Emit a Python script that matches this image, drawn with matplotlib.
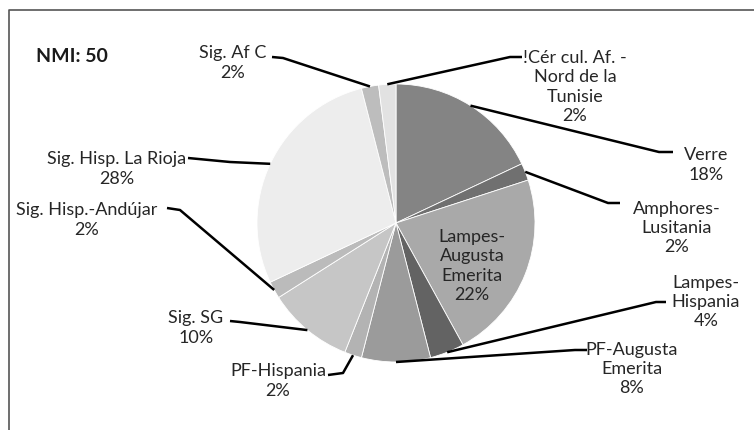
import numpy as np
import matplotlib.pyplot as plt

# NMI counts per category (total 50)
labels = ["Verre", "Amphores-\nLusitania", "Lampes-\nAugusta\nEmerita", "Lampes-\nHispania",
          "PF-Augusta\nEmerita", "PF-Hispania", "Sig. SG", "Sig. Hisp.-Andújar",
          "Sig. Hisp. La Rioja", "Sig. Af C", "!Cér cul. Af. -\nNord de la\nTunisie"]
counts = [9, 1, 11, 2, 4, 1, 5, 1, 14, 1, 1]
colors = ["#848484", "#707070", "#a9a9a9", "#636363", "#9b9b9b", "#b3b3b3",
          "#c6c6c6", "#bbbbbb", "#ededed", "#bdbdbd", "#e2e2e2"]

# layout in pixel coords (y downwards): label centre, elbow points of the leader
label_pos = [(706, 165), (677, 228), None, (706, 302), (632, 369), (278, 381),
             (196, 328), (87, 220), (117, 169), (233, 63), (575, 87)]
elbows = [[(659, 152), (673, 152)], [(608, 203), (620, 203)], None,
          [(656, 302), (666, 302)], [(575, 350), (587, 350)], [(343, 373), (328, 375)],
          [(240, 322), (230, 321)], [(180, 210), (167, 208)], [(230, 162), (188, 158)],
          [(283, 58), (272, 57)], [(510, 57), (522, 57)]]

W, H = 754, 430
cx, cy, r = 396, 223, 139

plt.rcParams['font.family'] = ['Lato', 'DejaVu Sans']
fig = plt.figure(figsize=(W / 100, H / 100), dpi=100)
ax = fig.add_axes([0, 0, 1, 1])
ax.set_xlim(0, W)
ax.set_ylim(0, H)
ax.axis('off')

def fy(y):
    return H - y

wedges, _ = ax.pie(counts, colors=colors, startangle=90, counterclock=False,
                   center=(cx, fy(cy)), radius=r, frame=True,
                   wedgeprops=dict(linewidth=0.6, edgecolor='white'))
ax.set_xlim(0, W)
ax.set_ylim(0, H)
ax.axis('off')

total = sum(counts)
txt_color = "#262626"
for i, w in enumerate(wedges):
    pct = f"{round(100 * counts[i] / total)}%"
    text = labels[i] + "\n" + pct
    if label_pos[i] is None:
        # label inside the wedge
        ax.text(472, fy(266), text, ha='center', va='center', fontsize=13,
                color=txt_color, linespacing=1.25)
        continue
    mid = np.deg2rad((w.theta1 + w.theta2) / 2)
    x0 = cx + r * np.cos(mid)
    y0 = fy(cy) + r * np.sin(mid)
    (ex1, ey1), (ex2, ey2) = elbows[i]
    ax.plot([x0, ex1, ex2], [y0, fy(ey1), fy(ey2)], color='black', lw=1.8,
            solid_capstyle='butt', zorder=3)
    lx, ly = label_pos[i]
    ax.text(lx, fy(ly), text, ha='center', va='center', fontsize=13,
            color=txt_color, linespacing=1.25)

ax.text(72, fy(56), "NMI: 50", ha='center', va='center', fontsize=14,
        fontweight='bold', color="#1a1a1a")

# chart frame (cropped at right and bottom)
ax.plot([9, 9, W + 5], [fy(H + 5), fy(10), fy(10)], color="#555555", lw=1.2,
        clip_on=False)

fig.savefig("out.png", dpi=100)
